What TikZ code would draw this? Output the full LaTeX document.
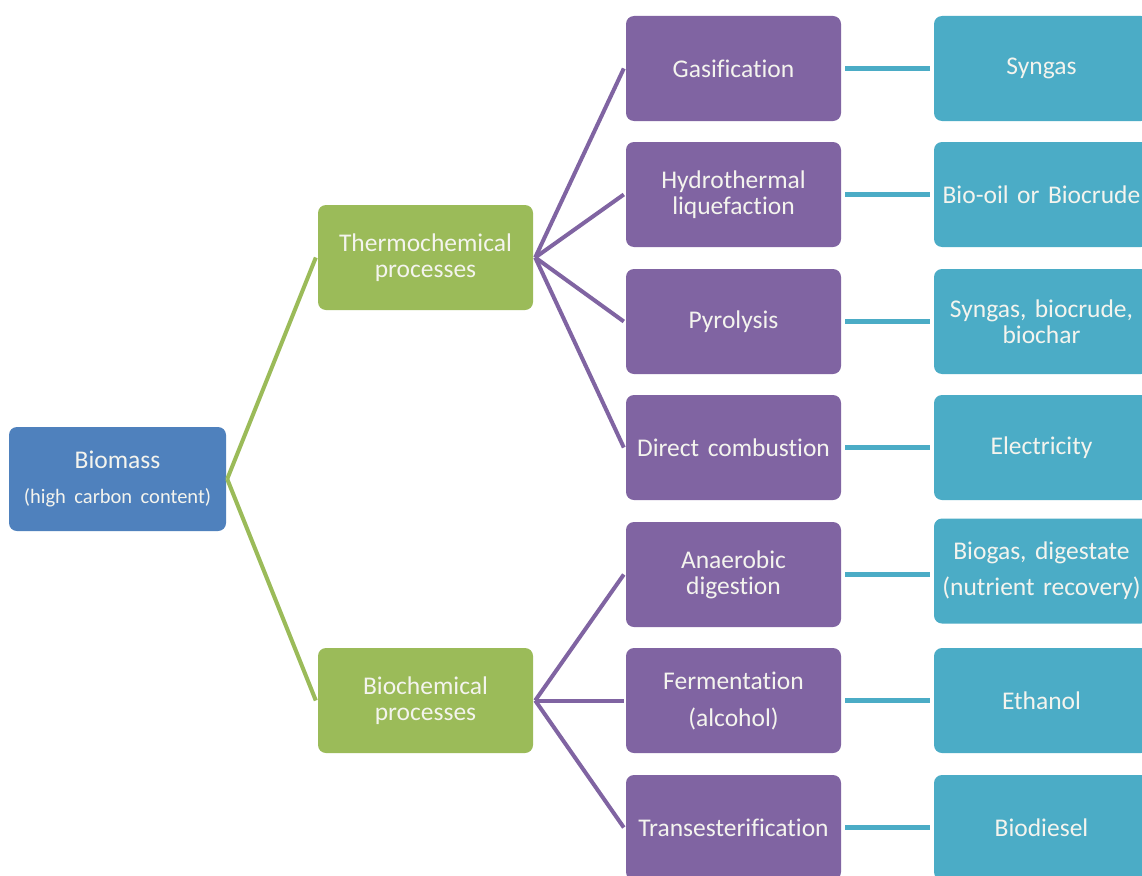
\documentclass[tikz,border=0pt]{standalone}
\usepackage{fontspec}
\setmainfont{Carlito}[Ligatures=NoCommon]
\definecolor{cblue}{HTML}{4F81BD}
\definecolor{cgreen}{HTML}{9BBB59}
\definecolor{cpurple}{HTML}{8064A2}
\definecolor{ccyan}{HTML}{4BACC6}
\definecolor{ctext}{HTML}{F4F4EE}
\tikzset{
  box/.style={rounded corners=8pt, minimum width=215pt, minimum height=105pt,
    inner sep=0pt, text=ctext, align=center, text width=213pt,
    font=\fontsize{25.5}{26}\selectfont},
  rootbox/.style={box, fill=cblue, minimum width=217pt, minimum height=104pt, text width=215pt},
  procbox/.style={box, fill=cgreen},
  methbox/.style={box, fill=cpurple},
  prodbox/.style={box, fill=ccyan},
  gline/.style={draw=cgreen, line width=4pt},
  pline/.style={draw=cpurple, line width=4pt},
  cline/.style={draw=ccyan, line width=5pt}
}
\begin{document}
\begin{tikzpicture}[x=1pt,y=-1pt]
\useasboundingbox (0,0) rectangle (1142,875);
\clip (0,0) rectangle (1142,875);
\fill[white] (0,0) rectangle (1142,875);

\node[rootbox] (bm) at (117.5,479) {Biomass\\[9pt]{\fontsize{20.5}{22}\selectfont (high carbon content)}};

\node[procbox] (th) at (425.5,257.5) {Thermochemical\\processes};
\node[procbox] (bc) at (425.5,700.5) {Biochemical\\processes};

\node[methbox] (m1) at (733.5,68.5) {Gasification};
\node[methbox] (m2) at (733.5,194.5) {Hydrothermal\\liquefaction};
\node[methbox] (m3) at (733.5,321.5) {Pyrolysis};
\node[methbox] (m4) at (733.5,447.5) {Direct combustion};
\node[methbox] (m5) at (733.5,574.5) {Anaerobic\\digestion};
\node[methbox] (m6) at (733.5,700.5) {Fermentation\\[11pt](alcohol)};
\node[methbox] (m7) at (733.5,827.5) {Transesterification};

\node[prodbox] (p1) at (1041.5,68.5) {Syngas};
\node[prodbox] (p2) at (1041.5,194.5) {Bio-oil or Biocrude};
\node[prodbox] (p3) at (1041.5,321.5) {Syngas, biocrude,\\biochar};
\node[prodbox] (p4) at (1041.5,447.5) {Electricity};
\node[prodbox] (p5) at (1041.5,571) {Biogas, digestate\\[10pt](nutrient recovery)};
\node[prodbox] (p6) at (1041.5,700.5) {Ethanol};
\node[prodbox] (p7) at (1041.5,827.5) {Biodiesel};

\draw[gline] ([xshift=1pt]bm.east) -- ([xshift=-2pt]th.west);
\draw[gline] ([xshift=1pt]bm.east) -- ([xshift=-2pt]bc.west);

\foreach \m in {m1,m2,m3,m4}
  \draw[pline] ([xshift=2pt]th.east) -- ([xshift=-2pt]\m.west);
\foreach \m in {m5,m6,m7}
  \draw[pline] ([xshift=2pt]bc.east) -- ([xshift=-2pt]\m.west);

\foreach \i in {1,...,7}
  \draw[cline] ([xshift=4pt]m\i.east) -- ([xshift=-4pt]m\i.east -| p\i.west);
\end{tikzpicture}
\end{document}
